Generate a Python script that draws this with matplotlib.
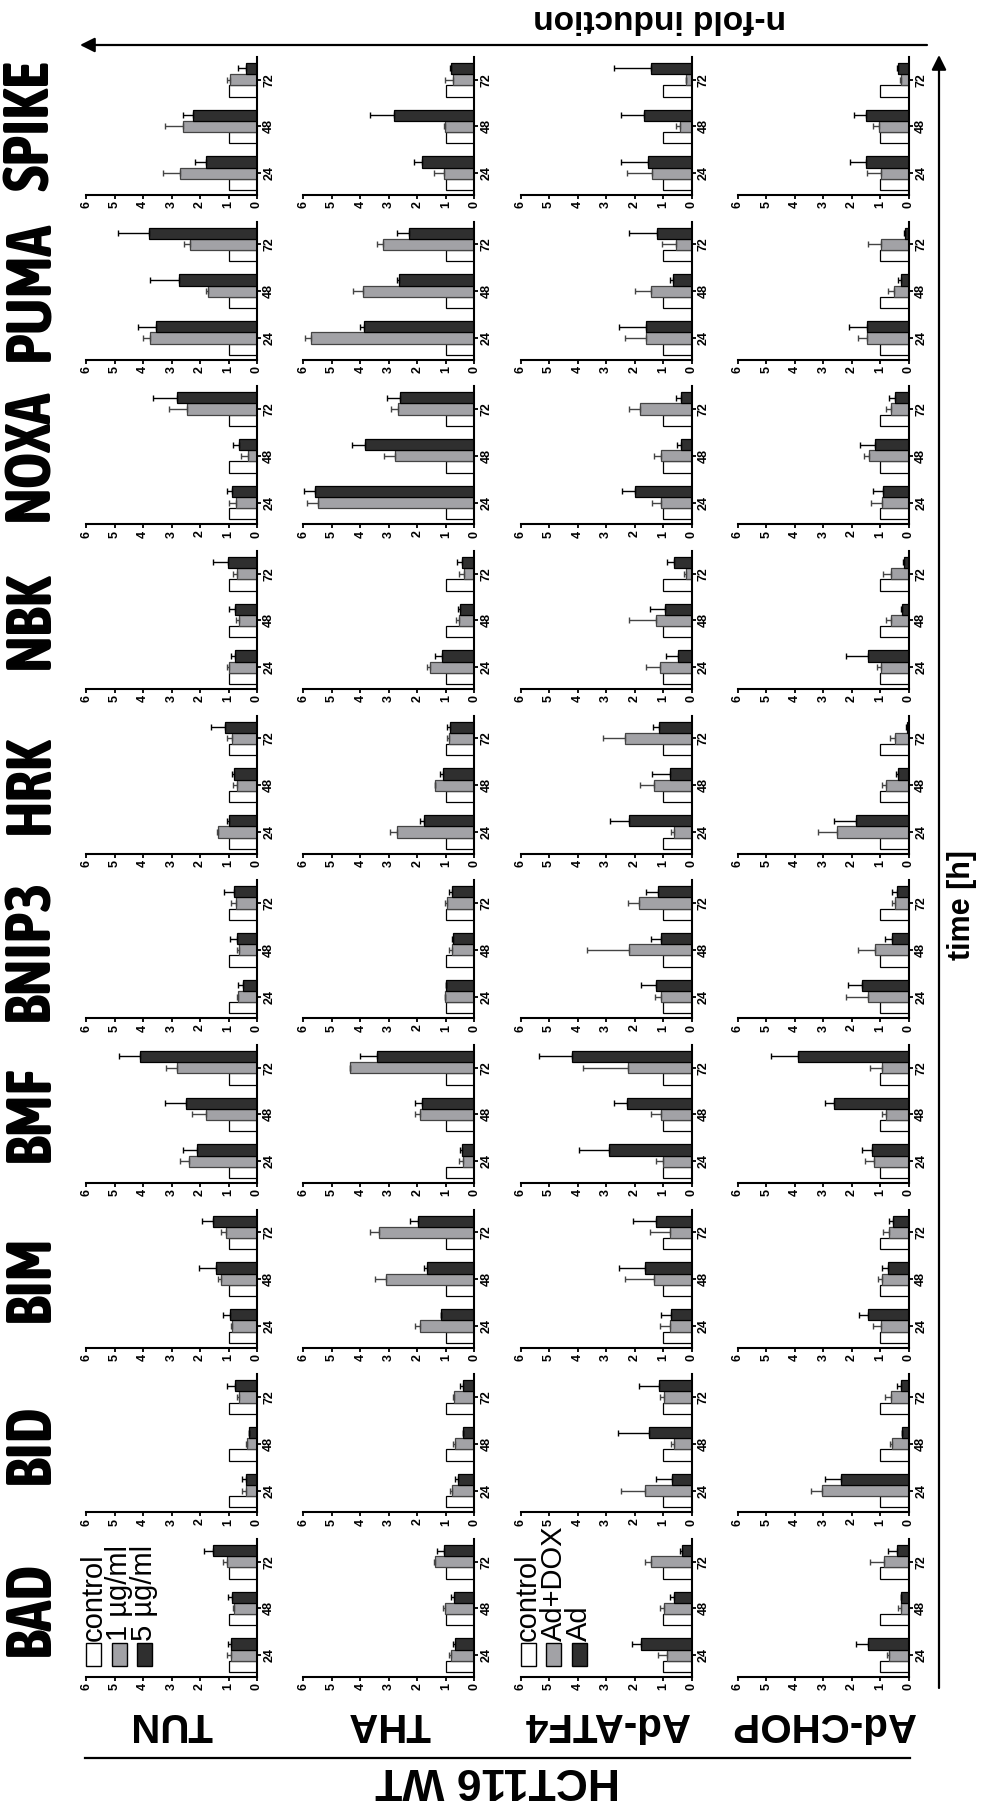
import matplotlib
matplotlib.use('Agg')
import matplotlib.pyplot as plt
from matplotlib.patches import Rectangle, FancyArrowPatch
from matplotlib.lines import Line2D
from matplotlib import font_manager

W, H = 982, 1805

genes = ["BAD", "BID", "BIM", "BMF", "BNIP3", "HRK", "NBK", "NOXA", "PUMA", "SPIKE"]
treatments = ["TUN", "THA", "Ad-ATF4", "Ad-CHOP"]
times = ["24", "48", "72"]
control = [1, 1, 1]

# gray bars (1 ug/ml or Ad+DOX), rows follow genes, columns follow times
tun_low = [[0.91, 0.80, 1.06], [0.40, 0.34, 0.63], [0.89, 1.27, 1.10], [2.37, 1.79, 2.82], [0.65, 0.62, 0.74],
           [1.36, 0.69, 0.89], [0.97, 0.64, 0.71], [0.74, 0.30, 2.44], [3.75, 1.72, 2.34], [2.70, 2.61, 0.95]]
tun_low_err = [[0.15, 0.03, 0.14], [0.11, 0.06, 0.08], [0.03, 0.09, 0.17], [0.33, 0.50, 0.38], [0.06, 0.09, 0.17],
               [0.03, 0.14, 0.17], [0.09, 0.10, 0.12], [0.26, 0.26, 0.64], [0.26, 0.08, 0.23], [0.59, 0.62, 0.11]]
tun_high = [[0.92, 0.89, 1.53], [0.39, 0.27, 0.76], [0.95, 1.44, 1.53], [2.12, 2.49, 4.11], [0.48, 0.71, 0.81],
            [0.98, 0.80, 1.11], [0.77, 0.76, 1.03], [0.87, 0.63, 2.82], [3.54, 2.75, 3.78], [1.79, 2.23, 0.40]]
tun_high_err = [[0.09, 0.12, 0.33], [0.12, 0.0, 0.30], [0.23, 0.58, 0.41], [0.49, 0.74, 0.72], [0.20, 0.24, 0.35],
                [0.08, 0.09, 0.52], [0.14, 0.23, 0.53], [0.19, 0.20, 0.84], [0.65, 0.99, 1.11], [0.39, 0.38, 0.25]]

tha_low = [[0.82, 1.02, 1.37], [0.78, 0.67, 0.70], [1.92, 3.09, 3.36], [0.41, 1.92, 4.35], [1.02, 0.78, 0.96],
           [2.71, 1.37, 0.90], [1.54, 0.55, 0.35], [5.49, 2.80, 2.68], [5.72, 3.92, 3.20], [1.08, 1.02, 0.75]]
tha_low_err = [[0.08, 0.09, 0.03], [0.06, 0.06, 0.05], [0.15, 0.41, 0.31], [0.12, 0.17, 0.02], [0.02, 0.10, 0.08],
               [0.24, 0.02, 0.06], [0.12, 0.08, 0.18], [0.38, 0.38, 0.23], [0.21, 0.34, 0.22], [0.35, 0.06, 0.27]]
tha_high = [[0.67, 0.70, 1.08], [0.57, 0.41, 0.40], [1.16, 1.66, 1.99], [0.43, 1.84, 3.42], [1.01, 0.73, 0.78],
            [1.78, 1.11, 0.84], [1.13, 0.51, 0.43], [5.58, 3.82, 2.62], [3.88, 2.65, 2.30], [1.84, 2.83, 0.81]]
tha_high_err = [[0.06, 0.11, 0.23], [0.10, 0.0, 0.09], [0.0, 0.12, 0.28], [0.06, 0.23, 0.60], [0.0, 0.05, 0.12],
                [0.11, 0.11, 0.12], [0.26, 0.07, 0.18], [0.38, 0.47, 0.44], [0.14, 0.06, 0.41], [0.29, 0.82, 0.03]]

atf4_dox = [[0.85, 0.98, 1.44], [1.63, 0.62, 0.97], [0.77, 1.32, 0.77], [1.01, 1.06, 2.23], [1.09, 2.20, 1.85],
            [0.62, 1.32, 2.35], [1.10, 1.24, 0.21], [1.06, 1.06, 1.82], [1.59, 1.44, 0.54], [1.38, 0.42, 0.19]]
atf4_dox_err = [[0.33, 0.14, 0.21], [0.86, 0.09, 0.15], [0.35, 1.00, 0.70], [0.23, 0.36, 1.58], [0.21, 1.46, 0.38],
                [0.12, 0.50, 0.76], [0.51, 0.96, 0.06], [0.33, 0.26, 0.39], [0.76, 0.54, 0.51], [0.88, 0.14, 0.0]]
atf4_ad = [[1.77, 0.62, 0.33], [0.69, 1.50, 1.16], [0.71, 1.65, 1.24], [2.90, 2.27, 4.20], [1.24, 1.09, 1.18],
           [2.18, 0.77, 1.16], [0.46, 0.95, 0.63], [1.98, 0.36, 0.36], [1.59, 0.65, 1.20], [1.53, 1.67, 1.42]]
atf4_ad_err = [[0.31, 0.13, 0.09], [0.55, 1.08, 0.70], [0.35, 0.88, 0.82], [1.05, 0.47, 1.17], [0.55, 0.35, 0.41],
               [0.70, 0.62, 0.20], [0.43, 0.52, 0.24], [0.46, 0.14, 0.18], [0.94, 0.12, 0.98], [0.94, 0.82, 1.31]]

chop_dox = [[0.70, 0.26, 0.87], [3.04, 0.58, 0.64], [0.99, 0.94, 0.70], [1.22, 0.82, 0.96], [1.43, 1.19, 0.49],
            [2.51, 0.82, 0.49], [0.99, 0.63, 0.63], [0.96, 1.40, 0.64], [1.46, 0.51, 0.98], [0.99, 1.04, 0.26]]
chop_dox_err = [[0.08, 0.11, 0.50], [0.41, 0.09, 0.20], [0.28, 0.14, 0.22], [0.32, 0.14, 0.41], [0.79, 0.59, 0.12],
                [0.69, 0.14, 0.18], [0.14, 0.18, 0.29], [0.37, 0.17, 0.18], [0.32, 0.24, 0.45], [0.47, 0.21, 0.06]]
chop_ad = [[1.43, 0.28, 0.43], [2.39, 0.23, 0.28], [1.43, 0.75, 0.55], [1.31, 2.63, 3.88], [1.66, 0.61, 0.43],
           [1.87, 0.40, 0.08], [1.45, 0.23, 0.16], [0.90, 1.19, 0.49], [1.46, 0.28, 0.12], [1.49, 1.51, 0.40]]
chop_ad_err = [[0.41, 0.0, 0.30], [0.56, 0.0, 0.15], [0.31, 0.21, 0.14], [0.35, 0.32, 0.97], [0.49, 0.23, 0.18],
               [0.75, 0.06, 0.02], [0.74, 0.03, 0.03], [0.35, 0.53, 0.21], [0.65, 0.09, 0.04], [0.58, 0.42, 0.03]]

low_sets = [tun_low, tha_low, atf4_dox, chop_dox]
low_errs = [tun_low_err, tha_low_err, atf4_dox_err, chop_dox_err]
high_sets = [tun_high, tha_high, atf4_ad, chop_ad]
high_errs = [tun_high_err, tha_high_err, atf4_ad_err, chop_ad_err]

legend_tun = ["control", "1 µg/ml", "5 µg/ml"]
legend_ad = ["control", "Ad+DOX", "Ad"]


def is_bold(w):
    if isinstance(w, str):
        return w in ('bold', 'heavy', 'extra bold', 'black', 'demibold', 'semibold', 'demi')
    return w >= 600


# a bold narrow face for the rotated gene names, if one is installed
bold_narrow = sorted(set(f.name for f in font_manager.fontManager.ttflist
                         if ('Narrow' in f.name or 'Condensed' in f.name) and is_bold(f.weight)))
narrow = bold_narrow[0] if bold_narrow else None
plt.rcParams['font.family'] = ['Liberation Sans', 'DejaVu Sans']

gray = '#a2a2a6'
dark = '#2f2f2f'


def px(x, y):
    return x / W, 1 - y / H


fig = plt.figure(figsize=(W / 100, H / 100), dpi=100)

pw, ph = 171, 138
bh = 0.24
ys = [0, 1, 2]

for c in range(4):
    for r in range(10):
        left = 86 + c * 217.3
        bottom = 1677 - r * 164.67
        ax = fig.add_axes([left / W, 1 - bottom / H, pw / W, ph / H])
        ax.barh([y - bh for y in ys], control, height=bh, color='white', edgecolor='black', linewidth=0.9)
        ax.barh(ys, low_sets[c][r], height=bh, color=gray, edgecolor='#444444', linewidth=0.9,
                xerr=[[0, 0, 0], low_errs[c][r]],
                error_kw=dict(ecolor='#444444', elinewidth=1, capsize=2.5, capthick=1))
        ax.barh([y + bh for y in ys], high_sets[c][r], height=bh, color=dark, edgecolor='black', linewidth=0.9,
                xerr=[[0, 0, 0], high_errs[c][r]],
                error_kw=dict(ecolor='black', elinewidth=1, capsize=2.5, capthick=1))
        ax.set_xlim(6, 0)
        ax.set_ylim(-0.465, 2.486)
        ax.set_xticks(range(7))
        ax.set_xticklabels([str(i) for i in range(7)], rotation=90, fontsize=9, fontweight='bold')
        ax.yaxis.tick_right()
        ax.set_yticks(ys)
        ax.set_yticklabels(times, rotation=90, fontsize=9, fontweight='bold', va='center')
        for s in ['left', 'top']:
            ax.spines[s].set_visible(False)
        for s in ['right', 'bottom']:
            ax.spines[s].set_linewidth(1.5)
        ax.tick_params(width=1.3, length=3, pad=1.5)

# legends
for c, labels in [(0, legend_tun), (2, legend_ad)]:
    x0 = 86 + c * 217.3
    colors = ['white', gray, dark]
    for i, lab in enumerate(labels):
        xx = x0 + i * 25.5
        fig.add_artist(Rectangle(px(xx, 1666), 15 / W, 23 / H, transform=fig.transFigure,
                                 facecolor=colors[i], edgecolor='black', linewidth=1))
        fig.text(*px(xx + 7.5, 1641), lab, rotation=90, rotation_mode='anchor', ha='left', va='center',
                 fontsize=21)

# gene names
gene_font = dict(fontsize=45, family=narrow) if narrow else dict(fontsize=31)
for r, g in enumerate(genes):
    yc = 1677 - r * 164.67 - ph / 2
    fig.text(*px(31, yc), g, rotation=90, ha='center', va='center', fontweight='bold', **gene_font)

# treatment names
for c, t in enumerate(treatments):
    xc = 86 + c * 217.3 + pw / 2
    fig.text(*px(xc, 1724), t, rotation=180, ha='center', va='center', fontsize=29, fontweight='bold')

fig.add_artist(Line2D([85 / W, 910 / W], [1 - 1758 / H] * 2, transform=fig.transFigure, color='black', lw=1.6))
fig.text(*px(498, 1780), "HCT116 WT", rotation=180, ha='center', va='center', fontsize=32, fontweight='bold')

# arrows
fig.add_artist(FancyArrowPatch(px(927, 45), px(80, 45), transform=fig.transFigure, arrowstyle='-|>',
                               mutation_scale=22, lw=1.6, color='black', shrinkA=0, shrinkB=0))
fig.add_artist(FancyArrowPatch(px(939, 1688), px(939, 55), transform=fig.transFigure, arrowstyle='-|>',
                               mutation_scale=22, lw=1.6, color='black', shrinkA=0, shrinkB=0))
fig.text(*px(660, 18), "n-fold induction", rotation=180, ha='center', va='center', fontsize=24, fontweight='bold')
fig.text(*px(962, 905), "time [h]", rotation=90, ha='center', va='center', fontsize=22, fontweight='bold')

fig.savefig('out.png', dpi=100)
